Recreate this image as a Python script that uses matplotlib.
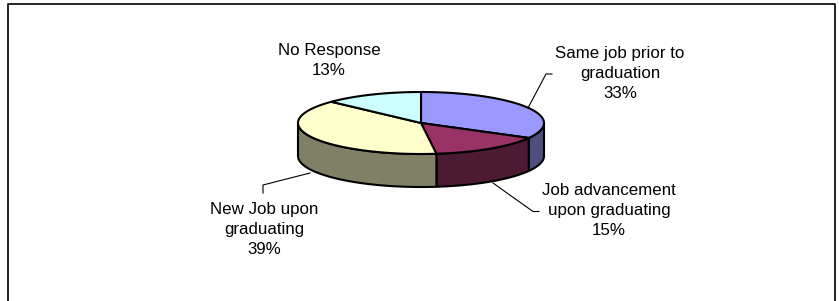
import numpy as np
import matplotlib.pyplot as plt
from matplotlib.patches import Polygon

plt.rcParams['font.family'] = ['Liberation Sans', 'DejaVu Sans']

# slices, clockwise from 12 o'clock
labels = ['Same job prior to\ngraduation', 'Job advancement\nupon graduating',
          'New Job upon\ngraduating', 'No Response']
values = [33, 15, 39, 13]
top_colors = ['#9999FF', '#993366', '#FFFFCC', '#CCFFFF']
side_colors = ['#4D4D80', '#4D1A33', '#808066', '#668080']

# label placement (pixels)
label_pos = [(620, 73.5), (609, 210.5), (264, 229.5), (329, 60.5)]
leaders = [
    [(528, 108), (546, 74), (552, 74)],
    [(493, 183), (533, 211.5), (539, 211.5)],
    [(310, 173), (263, 185), (263, 193)],
    None,
]

cx, cy = 421, 123
rx, ry = 123, 31
depth = 33

fig = plt.figure(figsize=(8.39, 3.01), dpi=100)
ax = fig.add_axes([0, 0, 1, 1])
ax.set_xlim(0, 839)
ax.set_ylim(301, 0)
ax.axis('off')


def pt(theta, dy=0):
    t = np.radians(theta)
    return cx + rx * np.cos(t), cy - ry * np.sin(t) + dy


total = sum(values)
angles = [90.0]
for v in values:
    angles.append(angles[-1] - 360.0 * v / total)

# side walls (front half only: theta in [-180, 0])
for i in range(len(values)):
    a0, a1 = angles[i], angles[i + 1]  # a0 > a1
    lo, hi = max(a1, -180.0), min(a0, 0.0)
    if hi <= lo:
        continue
    th = np.linspace(hi, lo, 60)
    top = [pt(t) for t in th]
    bot = [pt(t, depth) for t in th[::-1]]
    ax.add_patch(Polygon(top + bot, closed=True, facecolor=side_colors[i],
                         edgecolor='black', linewidth=1.5, joinstyle='round'))

# top faces
for i in range(len(values)):
    a0, a1 = angles[i], angles[i + 1]
    th = np.linspace(a0, a1, 100)
    verts = [(cx, cy)] + [pt(t) for t in th]
    ax.add_patch(Polygon(verts, closed=True, facecolor=top_colors[i],
                         edgecolor='black', linewidth=1.5, joinstyle='round'))

# labels
for i, lab in enumerate(labels):
    x, y = label_pos[i]
    ax.text(x, y, '%s\n%d%%' % (lab, values[i]), ha='center', va='center',
            fontsize=12.2, linespacing=1.42, color='black')
    if leaders[i] is not None:
        xs, ys = zip(*leaders[i])
        ax.plot(xs, ys, color='black', linewidth=0.8)

# chart frame
ax.plot([8, 8, 835, 835], [305, 4, 4, 305], color='black', linewidth=1.2)

fig.savefig('out.png', dpi=100)
